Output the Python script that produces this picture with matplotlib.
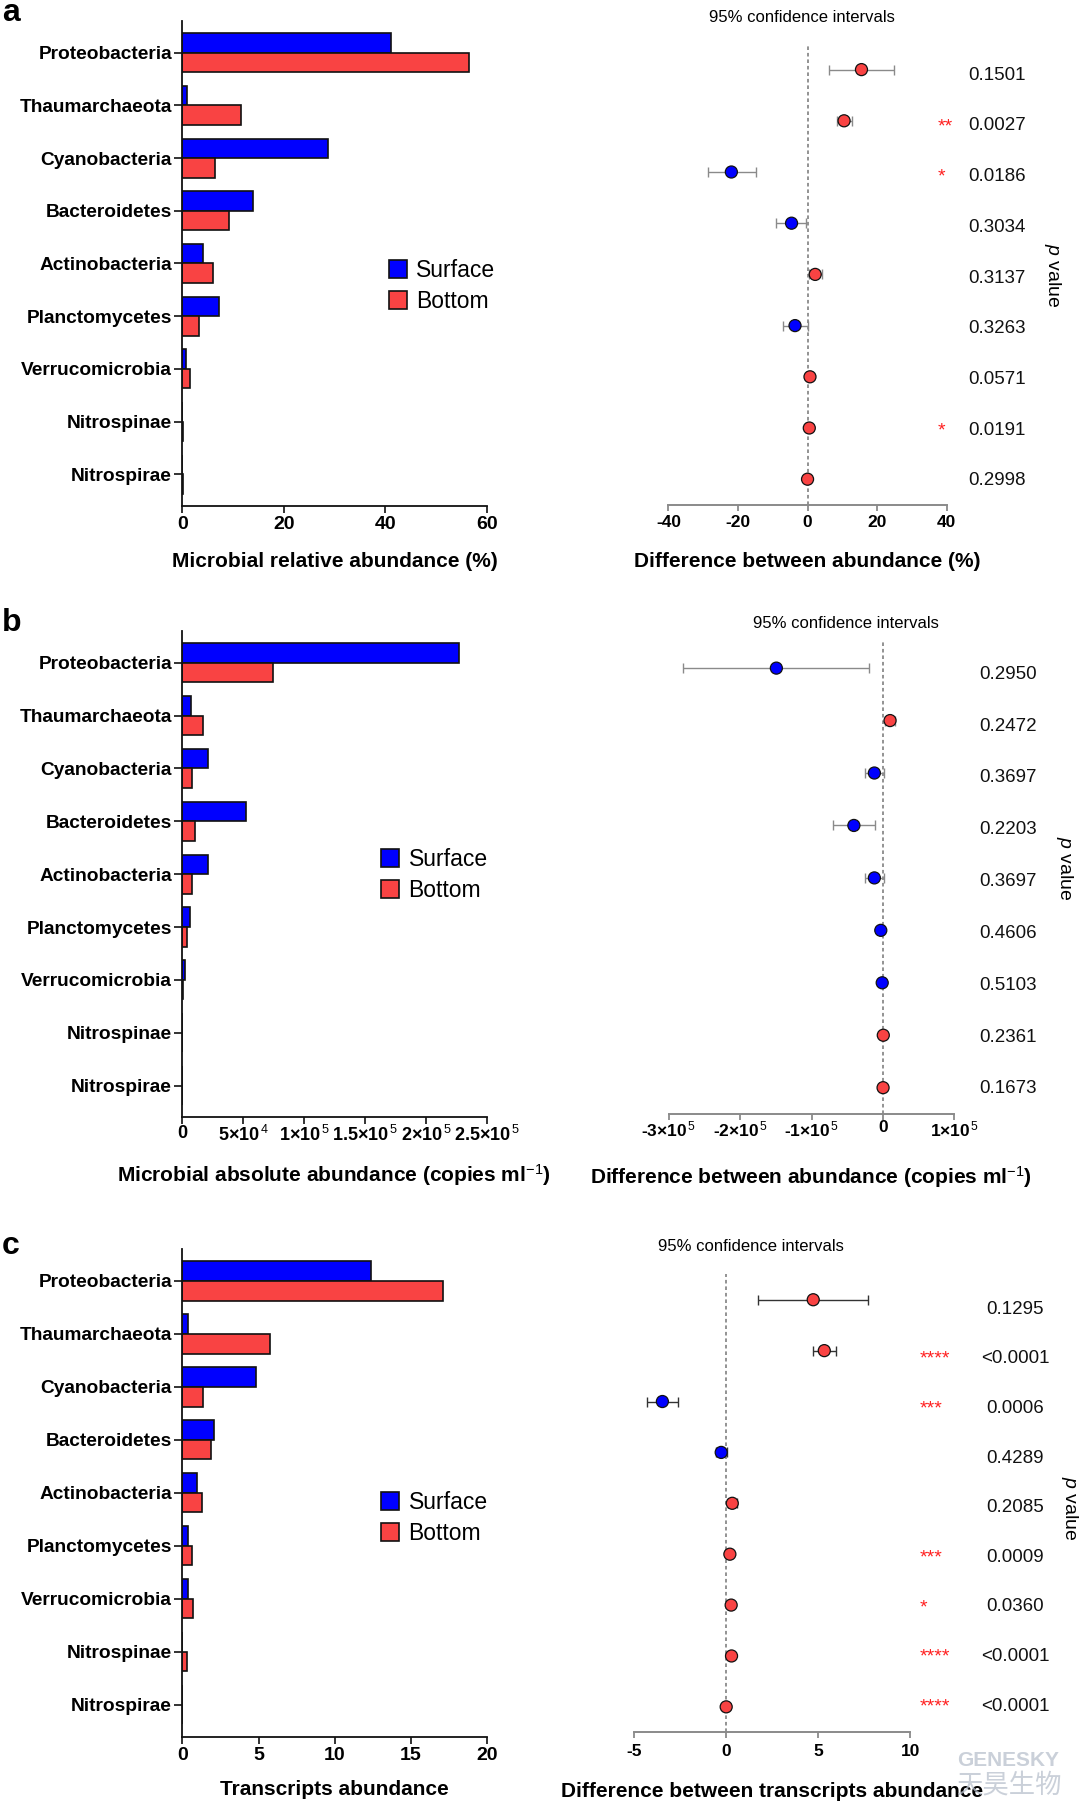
import matplotlib
matplotlib.use('Agg')
import matplotlib.pyplot as plt
import matplotlib.transforms as mtransforms
from matplotlib.patches import Patch
import numpy as np

plt.rcParams['font.family'] = ['Liberation Sans', 'DejaVu Sans']
plt.rcParams['mathtext.fontset'] = 'custom'
plt.rcParams['mathtext.rm'] = 'Liberation Sans'
plt.rcParams['mathtext.bf'] = 'Liberation Sans:bold'
plt.rcParams['mathtext.it'] = 'Liberation Sans:italic'

# ---------------- data ----------------
phyla = ['Proteobacteria', 'Thaumarchaeota', 'Cyanobacteria', 'Bacteroidetes',
         'Actinobacteria', 'Planctomycetes', 'Verrucomicrobia', 'Nitrospinae', 'Nitrospirae']
groups = ['Surface', 'Bottom']

# panel a: relative abundance (%)
a_surface = [41.1, 0.95, 28.7, 14.0, 4.0, 7.2, 0.75, 0.0, 0.0]
a_bottom = [56.5, 11.5, 6.5, 9.1, 6.1, 3.3, 1.4, 0.2, 0.03]
a_diff = [15.5, 10.5, -21.9, -4.6, 2.2, -3.6, 0.7, 0.5, 0.0]
a_lo = [6.2, 8.5, -28.7, -9.0, 0.4, -7.1, 0.4, 0.3, -0.1]
a_hi = [24.9, 12.7, -14.9, -0.4, 4.2, 0.0, 1.0, 0.7, 0.1]
a_p = ['0.1501', '0.0027', '0.0186', '0.3034', '0.3137', '0.3263', '0.0571', '0.0191', '0.2998']
a_stars = ['', '**', '*', '', '', '', '', '*', '']
a_ticks = [0, 20, 40, 60]
a_ticklabels = ['0', '20', '40', '60']
a_ci_ticks = [-40, -20, 0, 20, 40]
a_ci_ticklabels = ['-40', '-20', '0', '20', '40']

# panel b: absolute abundance (copies/ml)
b_surface = [2.267e5, 7.1e3, 2.07e4, 5.2e4, 2.07e4, 6.5e3, 2.3e3, 0.0, 0.0]
b_bottom = [7.47e4, 1.7e4, 8.2e3, 1.02e4, 8.2e3, 3.4e3, 9.0e2, 50.0, 10.0]
b_diff = [-1.493e5, 1.0e4, -1.2e4, -4.07e4, -1.2e4, -3.0e3, -1.0e3, 500.0, 200.0]
b_lo = [-2.80e5, 2.5e3, -2.5e4, -7.0e4, -2.5e4, -4.0e3, -1.5e3, 300.0, 100.0]
b_hi = [-2.0e4, 1.7e4, 1.5e3, -1.07e4, 1.5e3, -2.0e3, -5.0e2, 700.0, 300.0]
b_p = ['0.2950', '0.2472', '0.3697', '0.2203', '0.3697', '0.4606', '0.5103', '0.2361', '0.1673']
b_stars = ['', '', '', '', '', '', '', '', '']
b_ticks = [0, 5e4, 1e5, 1.5e5, 2e5, 2.5e5]
b_ticklabels = ['0', r'5×10$^{\,\mathrm{4}}$', r'1×10$^{\,\mathrm{5}}$', r'1.5×10$^{\,\mathrm{5}}$',
                r'2×10$^{\,\mathrm{5}}$', r'2.5×10$^{\,\mathrm{5}}$']
b_ci_ticks = [-3e5, -2e5, -1e5, 0, 1e5]
b_ci_ticklabels = [r'-3×10$^{\,\mathrm{5}}$', r'-2×10$^{\,\mathrm{5}}$', r'-1×10$^{\,\mathrm{5}}$', '0',
                   r'1×10$^{\,\mathrm{5}}$']

# panel c: transcripts abundance
c_surface = [12.36, 0.36, 4.82, 2.09, 0.93, 0.39, 0.39, 0.0, 0.0]
c_bottom = [17.1, 5.77, 1.36, 1.86, 1.30, 0.61, 0.68, 0.30, 0.0]
c_diff = [4.73, 5.33, -3.45, -0.26, 0.34, 0.21, 0.28, 0.30, 0.01]
c_lo = [1.73, 4.71, -4.30, -0.53, 0.09, 0.15, 0.22, 0.25, -0.02]
c_hi = [7.71, 5.97, -2.59, 0.04, 0.62, 0.27, 0.34, 0.35, 0.04]
c_p = ['0.1295', '<0.0001', '0.0006', '0.4289', '0.2085', '0.0009', '0.0360', '<0.0001', '<0.0001']
c_stars = ['', '****', '***', '', '', '***', '*', '****', '****']
c_ticks = [0, 5, 10, 15, 20]
c_ticklabels = ['0', '5', '10', '15', '20']
c_ci_ticks = [-5, 0, 5, 10]
c_ci_ticklabels = ['-5', '0', '5', '10']

# ---------------- style ----------------
BLUE = '#0000FF'
RED = '#F94343'
W, H = 1080, 1803

fig = plt.figure(figsize=(W / 100, H / 100), dpi=100)


def add_ax(x0, y0, x1, y1):
    return fig.add_axes([x0 / W, 1 - y1 / H, (x1 - x0) / W, (y1 - y0) / H])


def ftext(x, y, s, **kw):
    return fig.text(x / W, 1 - y / H, s, **kw)


def bar_panel(box, surf, bot, xmax, ticks, ticklabels, legend_xy, tick_fs, tick_pad):
    ax = add_ax(*box)
    y = np.arange(len(phyla))
    h = 0.37
    ax.barh(y - h / 2, surf, height=h, color=BLUE, edgecolor='#111111', linewidth=1.2,
            label=groups[0], zorder=2)
    ax.barh(y + h / 2, bot, height=h, color=RED, edgecolor='#111111', linewidth=1.2,
            label=groups[1], zorder=2)
    ax.set_ylim(8.6, -0.6)
    ax.set_xlim(0, xmax)
    ax.set_yticks(y)
    ax.set_yticklabels(phyla, fontweight='bold', fontsize=13.8)
    ax.set_xticks(ticks)
    ax.set_xticklabels(ticklabels, fontweight='bold', fontsize=tick_fs)
    for s in ['top', 'right']:
        ax.spines[s].set_visible(False)
    for s in ['left', 'bottom']:
        ax.spines[s].set_linewidth(1.3)
        ax.spines[s].set_color('#111111')
    ax.tick_params(axis='y', length=5.5, width=1.2, pad=2, color='#111111')
    ax.tick_params(axis='x', length=5, width=1.2, pad=tick_pad, color='#111111')
    ax.legend(handles=[Patch(facecolor=BLUE, edgecolor='#111111', linewidth=1.2, label=groups[0]),
                       Patch(facecolor=RED, edgecolor='#111111', linewidth=1.2, label=groups[1])],
              loc='center left', bbox_to_anchor=(legend_xy[0] / W, 1 - legend_xy[1] / H),
              bbox_transform=fig.transFigure, frameon=False, fontsize=16.5,
              handlelength=0.79, handleheight=0.83, handletextpad=0.42,
              labelspacing=0.33, borderpad=0, borderaxespad=0)
    return ax


def ci_panel(box, diff, lo, hi, pvals, stars, xlim, ticks, ticklabels, errcolor,
             p_x, p_ha, p_first, p_last, star_x, tick_fs, tick_pad):
    ax = add_ax(*box)
    y = np.arange(len(phyla))
    diff = np.asarray(diff)
    lo = np.asarray(lo)
    hi = np.asarray(hi)
    ax.set_ylim(8.5, -0.5)
    ax.set_xlim(*xlim)
    ax.axvline(0, color='#8a8a8a', lw=1.3, linestyle=(0, (2.0, 1.6)), zorder=1)
    ax.errorbar(diff, y, xerr=np.vstack([diff - lo, hi - diff]), fmt='none',
                ecolor=errcolor, elinewidth=1.0, capsize=3.5, capthick=1.0, zorder=2)
    colors = [RED if d >= 0 else BLUE for d in diff]
    ax.scatter(diff, y, s=75, c=colors, edgecolors='#111111', linewidths=0.9, zorder=3)
    for s in ['top', 'right', 'left']:
        ax.spines[s].set_visible(False)
    ax.spines['bottom'].set_color('#8a8a8a')
    ax.spines['bottom'].set_linewidth(1.4)
    ax.set_yticks([])
    ax.set_xticks(ticks)
    ax.set_xticklabels(ticklabels, fontweight='bold', fontsize=tick_fs)
    ax.tick_params(axis='x', length=4.5, width=1.3, color='#8a8a8a', pad=tick_pad)

    blend = mtransforms.blended_transform_factory(fig.transFigure, ax.transData)
    pfs = 13.5
    sfs = 14
    ptrans = mtransforms.offset_copy(blend, fig=fig, y=-0.358 * pfs, units='points')
    strans = mtransforms.offset_copy(blend, fig=fig, y=-0.565 * sfs, units='points')
    n = len(pvals)
    for i in range(n):
        yv = p_first + i * (p_last - p_first) / (n - 1)
        ax.text(p_x / W, yv, pvals[i], transform=ptrans, ha=p_ha, va='baseline',
                fontsize=pfs, color='#111111')
        if stars[i]:
            ax.text(star_x / W, yv - 0.07, stars[i], transform=strans, ha='left',
                    va='baseline', fontsize=sfs, color='#FF2020')
    return ax


# ---------------- panel a ----------------
bar_panel((182.4, 21.2, 487.0, 505.8), a_surface, a_bottom, 60, a_ticks, a_ticklabels,
          (388.7, 286.0), 14, 2.4)
ci_panel((668.4, 44.0, 946.7, 504.8), a_diff, a_lo, a_hi, a_p, a_stars, (-40, 40),
         a_ci_ticks, a_ci_ticklabels, '#8a8a8a', 1026, 'right', 0.068, 7.99, 938, 12.5, 3.2)
ftext(2, 21, 'a', fontsize=23, fontweight='bold', va='baseline')
ftext(801.9, 17.3, '95% confidence intervals', fontsize=12, ha='center', va='center')
ftext(334.5, 561.5, 'Microbial relative abundance (%)', fontsize=15, fontweight='bold',
      ha='center', va='center')
ftext(806.9, 561.5, 'Difference between abundance (%)', fontsize=15, fontweight='bold',
      ha='center', va='center')
ftext(1052.3, 275, r'$\mathit{p}$ value', fontsize=14, rotation=270, ha='center', va='center')

# ---------------- panel b ----------------
bar_panel((182.4, 631.0, 487.0, 1117.3), b_surface, b_bottom, 2.5e5, b_ticks, b_ticklabels,
          (380.8, 875.0), 13, 0.6)
ci_panel((668.8, 641.9, 954.3, 1113.9), b_diff, b_lo, b_hi, b_p, b_stars, (-3e5, 1e5),
         b_ci_ticks, b_ci_ticklabels, '#8a8a8a', 1036.7, 'right', 0.074, 7.98, 940, 12.5, -0.2)
ftext(2, 630.8, 'b', fontsize=23, fontweight='bold', va='baseline')
ftext(846.3, 623.8, '95% confidence intervals', fontsize=12, ha='center', va='center')
ftext(333.5, 1175, r'Microbial absolute abundance (copies ml$^{\mathrm{-1}}$)', fontsize=15,
      fontweight='bold', ha='center', va='center')
ftext(810.8, 1176.9, r'Difference between abundance (copies ml$^{\mathrm{-1}}$)', fontsize=15,
      fontweight='bold', ha='center', va='center')
ftext(1064.4, 868.3, r'$\mathit{p}$ value', fontsize=14, rotation=270, ha='center', va='center')

# ---------------- panel c ----------------
bar_panel((182.4, 1249.2, 487.0, 1736.5), c_surface, c_bottom, 20, c_ticks, c_ticklabels,
          (380.8, 1517.9), 14, 2.4)
ci_panel((633.8, 1274.3, 910.4, 1732.3), c_diff, c_lo, c_hi, c_p, c_stars, (-5, 10),
         c_ci_ticks, c_ci_ticklabels, '#333333', 1015, 'center', 0.14, 7.945, 920, 12.5, 4.0)
ftext(2, 1253.7, 'c', fontsize=23, fontweight='bold', va='baseline')
ftext(750.6, 1246.9, '95% confidence intervals', fontsize=12, ha='center', va='center')
ftext(334.0, 1789.7, 'Transcripts abundance', fontsize=15, fontweight='bold',
      ha='center', va='center')
ftext(772.0, 1791.6, 'Difference between transcripts abundance', fontsize=15, fontweight='bold',
      ha='center', va='center')
ftext(1069.6, 1508.4, r'$\mathit{p}$ value', fontsize=14, rotation=270, ha='center', va='center')

# watermark
ftext(957, 1761, 'GENESKY', fontsize=15, fontweight='bold', color='#b9c1cd', alpha=0.75,
      ha='left', va='center', zorder=10)
ftext(957, 1785, '天昊生物', fontsize=19, color='#b9c1cd', alpha=0.75, ha='left', va='center',
      family=['Noto Sans CJK SC', 'DejaVu Sans'], zorder=10)

fig.savefig('out.png', dpi=100)
